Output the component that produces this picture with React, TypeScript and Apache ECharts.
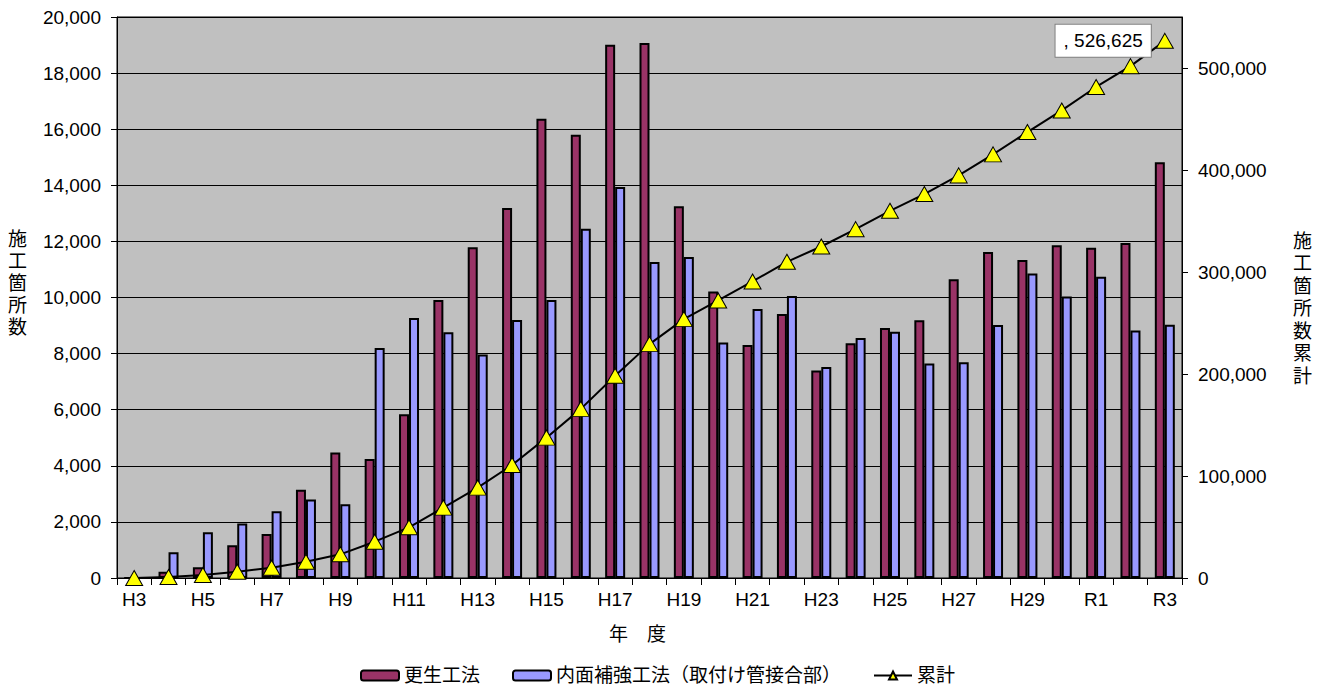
import React, { useEffect, useRef } from "react";
import * as echarts from "echarts";

const categories = [
  "H3", "H4", "H5", "H6", "H7", "H8", "H9", "H10", "H11", "H12", "H13", "H14", "H15", "H16",
  "H17", "H18", "H19", "H20", "H21", "H22", "H23", "H24", "H25", "H26", "H27", "H28", "H29",
  "H30", "R1", "R2", "R3",
];
const koseiValues = [
  0, 225, 380, 1165, 1570, 3150, 4470, 4240, 5840, 9910, 11790, 13190, 16370, 15800,
  19010, 19070, 13250, 10210, 8310, 9410, 7400, 8370, 8910, 9190, 10650, 11620, 11340,
  11860, 11770, 11940, 14820,
];
const naimenValues = [
  0, 915, 1630, 1940, 2380, 2800, 2630, 8200, 9270, 8760, 7970, 9200, 9910, 12450,
  13940, 11270, 11440, 8400, 9590, 10050, 7520, 8560, 8780, 7650, 7690, 9020, 10860,
  10040, 10740, 8820, 9030,
];
const cumulativeValues = [
  0, 1000, 3000, 6200, 10100, 16000, 23200, 35600, 49700, 69000, 88600, 110800, 137600,
  165800, 198200, 229300, 253800, 272100, 290700, 310000, 325000, 342000, 360000, 376400,
  394700, 415300, 437200, 458400, 481400, 501800, 526625,
];
const seriesNames = ["更生工法", "内面補強工法（取付け管接合部）", "累計"];
const leftTitle = "施工箇所数";
const rightTitle = "施工箇所数累計";
const xTitle = "年　度";

const FONT = '"Liberation Sans", "Noto Sans CJK JP", sans-serif';
const fmt = (v: number) => v.toLocaleString("en-US");

export default function App() {
  const ref = useRef<HTMLDivElement>(null);
  useEffect(() => {
    if (!ref.current) return;
    const chart = echarts.init(ref.current, undefined, { renderer: "svg" });
    const lastIdx = cumulativeValues.length - 1;
    chart.setOption({
      animation: false,
      textStyle: { fontFamily: FONT, color: "#000" },
      grid: {
        left: 117,
        right: 146,
        top: 17,
        bottom: 109,
        show: true,
        backgroundColor: "#C0C0C0",
        borderColor: "#000",
        borderWidth: 1,
      },
      legend: {
        top: 661,
        left: 355,
        itemWidth: 38,
        itemHeight: 10,
        itemGap: 32,
        textStyle: { fontSize: 19, fontFamily: FONT, color: "#000" },
        data: seriesNames,
      },
      xAxis: {
        type: "category",
        data: categories,
        boundaryGap: true,
        axisLine: { lineStyle: { color: "#000", width: 1 } },
        axisTick: { show: true, interval: 0, length: 7, lineStyle: { color: "#000" } },
        axisLabel: { interval: 1, fontSize: 19, color: "#000", margin: 12, fontFamily: FONT },
        splitLine: { show: false },
      },
      yAxis: [
        {
          type: "value",
          min: 0,
          max: 20000,
          interval: 2000,
          axisLine: { show: true, lineStyle: { color: "#000" } },
          axisTick: { show: true, length: 6, lineStyle: { color: "#000" } },
          axisLabel: { fontSize: 19, color: "#000", margin: 16, formatter: (v: number) => fmt(v), fontFamily: FONT },
          splitLine: { show: true, lineStyle: { color: "#000", width: 1 } },
        },
        {
          type: "value",
          min: 0,
          max: 550000,
          interval: 100000,
          position: "right",
          axisLine: { show: true, lineStyle: { color: "#000" } },
          axisTick: { show: true, length: 6, lineStyle: { color: "#000" } },
          axisLabel: {
            fontSize: 19,
            color: "#000",
            margin: 16,
            showMaxLabel: false,
            formatter: (v: number) => (v > 500000 ? "" : fmt(v)),
            fontFamily: FONT,
          },
          splitLine: { show: false },
        },
      ],
      series: [
        {
          name: seriesNames[0],
          type: "bar",
          data: koseiValues,
          barWidth: 10,
          barGap: "0%",
          itemStyle: { color: "#993366", borderColor: "#000", borderWidth: 2 },
        },
        {
          name: seriesNames[1],
          type: "bar",
          data: naimenValues,
          barWidth: 10,
          barGap: "0%",
          itemStyle: { color: "#9999FF", borderColor: "#000", borderWidth: 2 },
        },
        {
          name: seriesNames[2],
          type: "line",
          yAxisIndex: 1,
          data: cumulativeValues.map((v, i) =>
            i === lastIdx
              ? {
                  value: v,
                  label: {
                    show: true,
                    position: "left",
                    distance: 5,
                    formatter: ", " + fmt(v),
                    fontSize: 19,
                    color: "#000",
                    fontFamily: FONT,
                    backgroundColor: "#fff",
                    borderColor: "#808080",
                    borderWidth: 1,
                    padding: [7, 8, 6, 8],
                  },
                }
              : v
          ),
          symbol: "triangle",
          symbolSize: [17, 15],
          z: 5,
          lineStyle: { color: "#000", width: 2 },
          itemStyle: { color: "#FFFF00", borderColor: "#000", borderWidth: 1 },
        },
      ],
      graphic: [
        {
          type: "text",
          left: 8,
          top: 228,
          style: {
            text: leftTitle.split("").join("\n"),
            fontSize: 19,
            lineHeight: 22,
            fill: "#000",
            fontFamily: FONT,
          },
        },
        {
          type: "text",
          left: 1293,
          top: 230,
          style: {
            text: rightTitle.split("").join("\n"),
            fontSize: 19,
            lineHeight: 22.5,
            fill: "#000",
            fontFamily: FONT,
          },
        },
        {
          type: "text",
          left: 609,
          top: 625,
          style: { text: xTitle, fontSize: 19, fill: "#000", fontFamily: FONT },
        },
      ],
    });
    return () => chart.dispose();
  }, []);
  return (
    <div
      ref={ref}
      style={{ position: "fixed", left: 0, top: 0, width: 1328, height: 687, background: "#fff" }}
    />
  );
}
